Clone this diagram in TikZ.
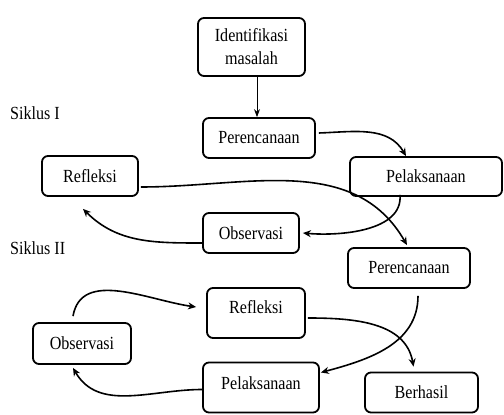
\documentclass[tikz,border=0pt]{standalone}
\usepackage{fontspec}
\setmainfont{Liberation Serif}[FakeStretch=0.87]
\usetikzlibrary{arrows.meta}
\begin{document}
\begin{tikzpicture}[x=1pt,y=1pt,
  box/.style={draw, line width=1.8pt, rounded corners=6pt, inner sep=0pt, align=center,
    font=\fontsize{18.5}{23}\selectfont},
  lbl/.style={inner sep=0pt, font=\fontsize{18.5}{22}\selectfont},
  flow/.style={line width=1.6pt, -{Stealth[length=8pt,width=7pt]}},
  thinflow/.style={line width=0.9pt, -{Stealth[length=8pt,width=6pt]}}]
\useasboundingbox (0,0) rectangle (504,415);
% boxes
\node[box, minimum width=107, minimum height=58] (ident) at (251.5,368) {Identifikasi\\masalah};
\node[box, minimum width=112, minimum height=40] (per1) at (259,277) {Perencanaan};
\node[box, minimum width=96, minimum height=40] (ref1) at (90,239) {Refleksi};
\node[box, minimum width=152, minimum height=39] (pel1) at (426,238.5) {Pelaksanaan};
\node[box, minimum width=96, minimum height=40] (obs1) at (251,182) {Observasi};
\node[box, minimum width=122, minimum height=40] (per2) at (409,147) {Perencanaan};
\node[box, minimum width=98, minimum height=50] (ref2) at (256,102) {};
\node[lbl] (ref2t) at (256,108) {Refleksi};
\node[box, minimum width=98, minimum height=41] (obs2) at (82,71.5) {Observasi};
\node[box, minimum width=116, minimum height=50] (pel2) at (261,27.5) {};
\node[lbl] (pel2t) at (261,32) {Pelaksanaan};
\node[box, minimum width=113, minimum height=40] (ber) at (421.5,22.5) {Berhasil};
% labels
\node[lbl, anchor=west] (s1) at (10,302) {Siklus I};
\node[lbl, anchor=west] (s2) at (10,167) {Siklus II};
% connectors
\draw[thinflow] ([xshift=5.5]ident.south) -- ([xshift=-2]per1.north);
\draw[flow] ([xshift=3,yshift=5]per1.east) to[out=2, in=120] ([xshift=-20]pel1.north);
\draw[flow] ([xshift=-26,yshift=2]pel1.south) to[out=-85, in=-5, looseness=0.9] ([xshift=3]obs1.east);
\draw[flow] ([yshift=-10]obs1.west) to[out=180, in=-45] ([xshift=-7,yshift=-12]ref1.south);
\draw[flow] ([xshift=2,yshift=-11]ref1.east) to[out=0, in=120] ([xshift=-2,yshift=2]per2.north);
\draw[flow] ([xshift=9,yshift=-7]per2.south) to[out=-90, in=15] ([xshift=1,yshift=15]pel2.east);
\draw[flow] ([yshift=-2]pel2.west) to[out=180, in=-60] ([xshift=-9,yshift=-3]obs2.south);
\draw[flow] ([xshift=-9,yshift=6]obs2.north) to[out=80, in=172] ([xshift=-10,yshift=6]ref2.west);
\draw[flow] ([xshift=2,yshift=-5]ref2.east) to[out=0, in=100] ([xshift=-8,yshift=5]ber.north);
\end{tikzpicture}
\end{document}
